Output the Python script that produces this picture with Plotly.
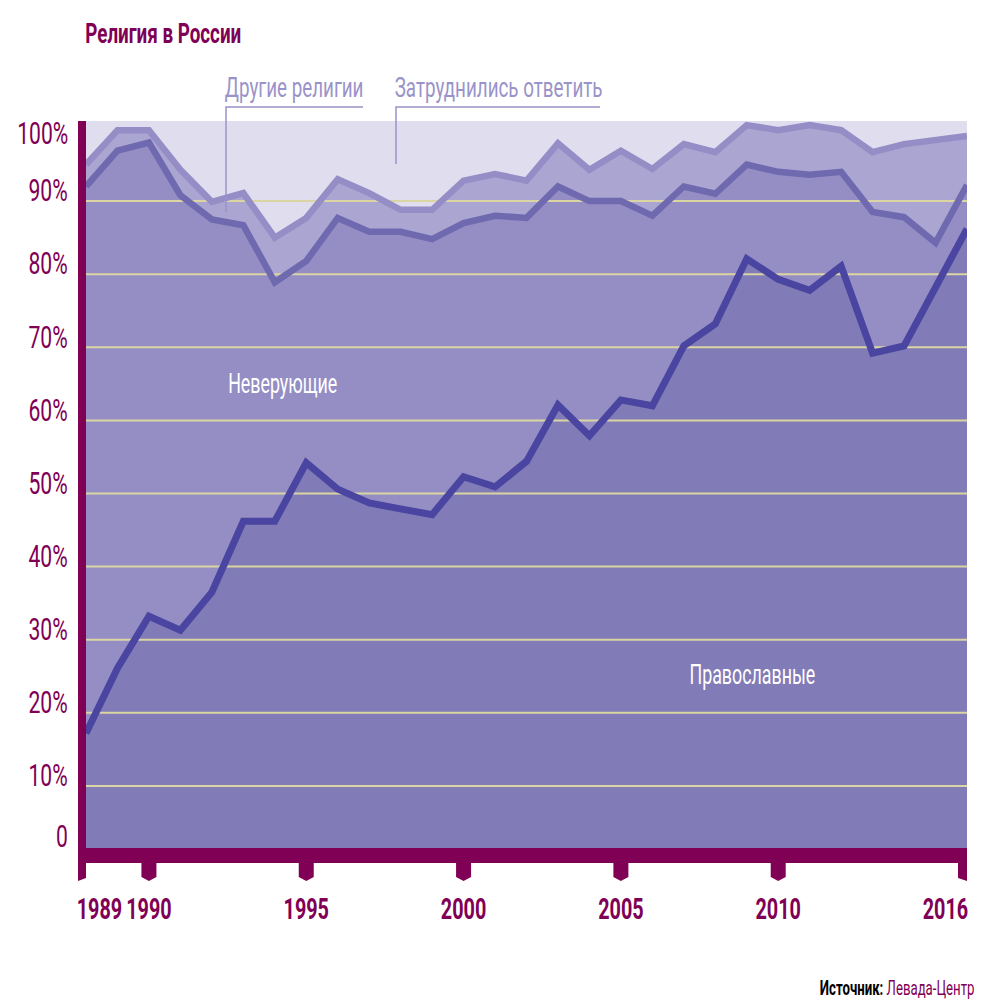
import plotly.graph_objects as go

# Survey positions along the axis (the 1989 wave has two readings)
survey_index = list(range(29))
orthodox = [17.2, 26.1, 33.2, 31.3, 36.5, 46.2, 46.2, 54.2, 50.6, 48.7, 47.9, 47.1, 52.3, 50.9, 54.4,
            62.1, 57.9, 62.8, 62.0, 70.2, 73.2, 82.1, 79.3, 77.8, 81.1, 69.2, 70.2, 78.1, 86.2]
with_nonbelievers = [92.0, 96.9, 98.0, 90.8, 87.5, 86.7, 78.9, 81.8, 87.7, 85.8, 85.8, 84.8, 87.0, 88.0, 87.7,
                     92.0, 90.0, 90.0, 88.0, 92.0, 91.0, 95.0, 94.0, 93.6, 94.0, 88.5, 87.8, 84.3, 92.2]
with_other = [95.0, 99.7, 99.7, 94.3, 89.9, 91.1, 85.0, 87.7, 93.0, 91.1, 88.8, 88.8, 92.8, 93.7, 92.8,
              97.9, 94.3, 96.9, 94.4, 97.8, 96.7, 100.4, 99.7, 100.4, 99.7, 96.7, 97.8, 98.3, 98.9]

grid_values = [10, 20, 30, 40, 50, 60, 70, 80, 90]
x_tick_index = [0, 2, 7, 12, 17, 22, 28]
x_tick_labels = ["1989", "1990", "1995", "2000", "2005", "2010", "2016"]

PURPLE = "#7F0055"
C_BG, C_TOP, C_MID, C_LOW = "#E0DDEE", "#ABA5D2", "#958EC4", "#817BB7"
L_TOP, L_MID, L_LOW = "#958DC6", "#6F69B0", "#4A45A0"
C_NOTE = "#9A93C9"
FONT = "Roboto"

W, H = 1000, 1000
L, R, T, B = 86, 967, 121, 848
Y_RANGE = [(859 - B) / 7.31, (859 - T) / 7.31]
X_RANGE = [survey_index[0], survey_index[-1]]

fig = go.Figure()
for vals, col in [(with_other, C_TOP), (with_nonbelievers, C_MID), (orthodox, C_LOW)]:
    fig.add_trace(go.Scatter(x=survey_index, y=vals, mode="none", fill="tozeroy", fillcolor=col, hoverinfo="skip"))

gx, gy = [], []
for v in grid_values:
    gx += [X_RANGE[0], X_RANGE[1], None]
    gy += [v, v, None]
fig.add_trace(go.Scatter(x=gx, y=gy, mode="lines", line=dict(color="#DAD5A2", width=2), hoverinfo="skip"))

for vals, col, w in [(with_other, L_TOP, 6.5), (with_nonbelievers, L_MID, 6.5), (orthodox, L_LOW, 7)]:
    fig.add_trace(go.Scatter(x=survey_index, y=vals, mode="lines", line=dict(color=col, width=w), hoverinfo="skip"))


def fx(x):
    return (x - L) / (R - L)


def fy(y):
    return (B - y) / (B - T)


shapes = []
# Pentagon axis ticks below the baseline bar
for i, pos in enumerate(x_tick_index):
    if i == 0:
        path = "M-8,-14 L0,-14 L0,-30 L-8,-33 Z"
    elif i == len(x_tick_index) - 1:
        path = "M-9,-14 L0,-14 L0,-33 L-9,-30 Z"
    else:
        path = "M-7.5,-14 L7.5,-14 L7.5,-29 L0,-33 L-7.5,-29 Z"
    shapes.append(dict(type="path", xref="paper", yref="paper", xsizemode="pixel", ysizemode="pixel",
                       xanchor=(pos - X_RANGE[0]) / (X_RANGE[1] - X_RANGE[0]), yanchor=0,
                       path=path, fillcolor=PURPLE, line_width=0))
# Leader lines of the two callouts
for pts in ([(363, 107), (226, 107), (226, 212)], [(600, 107), (396, 107), (396, 164)]):
    d = "M" + " L".join(f"{fx(a):.5f},{fy(b):.5f}" for a, b in pts)
    shapes.append(dict(type="path", xref="paper", yref="paper", path=d, line=dict(color=C_NOTE, width=1.5)))


def note(x, y, text, size, color):
    # Text is narrowed about its centre below, so every note is placed by its centre.
    return dict(xref="paper", yref="paper", x=fx(x), y=fy(y), text=text, showarrow=False, xanchor="center",
                yanchor="middle", font=dict(family=FONT, size=size, color=color), borderpad=0)


annotations = [
    note(163, 34, "<b>Религия в России</b>", 28.5, PURPLE),
    note(294, 87, "Другие религии", 28.5, C_NOTE),
    note(498, 87, "Затруднились ответить", 28.5, C_NOTE),
    note(282, 384, "Неверующие", 27, "white"),
    note(752, 675, "Православные", 27, "white"),
    note(897, 988, "<b>Источник:</b> <span style='color:%s'>Левада-Центр</span>" % PURPLE, 20, "black"),
    # Axis end labels sit off their ticks in the reference
    note(42.5, 133, "100%", 32, PURPLE),
    note(62, 836, "0", 32, PURPLE),
    note(99.5, 908, "<b>%s</b>" % x_tick_labels[0], 30, PURPLE),
    note(945, 908, "<b>%s</b>" % x_tick_labels[-1], 30, PURPLE),
]

fig.update_layout(
    width=W, height=H, showlegend=False, paper_bgcolor="white", plot_bgcolor=C_BG,
    margin=dict(l=L, r=W - R, t=T, b=H - B, autoexpand=False),
    shapes=shapes, annotations=annotations,
    xaxis=dict(range=X_RANGE, showgrid=False, zeroline=False, showline=True, linecolor=PURPLE, linewidth=15,
               ticks="", tickmode="array", tickvals=x_tick_index[1:-1], ticktext=[f"<b>{t}</b>" for t in x_tick_labels[1:-1]],
               tickfont=dict(family=FONT, size=30, color=PURPLE), ticklabelstandoff=20),
    yaxis=dict(range=Y_RANGE, showgrid=False, zeroline=False, showline=True, linecolor=PURPLE, linewidth=8,
               ticks="", tickmode="array", tickvals=grid_values, ticktext=[f"{v}%" for v in grid_values],
               tickfont=dict(family=FONT, size=32, color=PURPLE), ticklabelshift=-11, ticklabelstandoff=4),
)

# Reference type is a very condensed face; none is installed, so narrow the real text
# horizontally about its anchor point.
squeeze = """
document.body.style.margin='0';
(function(){
  var K=0.66;
  function run(){
    document.querySelectorAll('.main-svg text').forEach(function(t){
      if(t.getAttribute('data-sq')) return;
      if(!t.textContent) return;
      var ax=parseFloat(t.getAttribute('x'))||0, old=t.getAttribute('transform')||'';
      t.setAttribute('transform',old+' translate('+ax+',0) scale('+K+',1) translate('+(-ax)+',0)');
      t.setAttribute('data-sq','1');
    });
    document.querySelectorAll('.annotation-text-g rect').forEach(function(r){
      if(r.getAttribute('data-sq')) return;
      var w=parseFloat(r.getAttribute('width')), x=parseFloat(r.getAttribute('x'));
      if(!w) return;
      r.setAttribute('x',x+w*(1-K)/2); r.setAttribute('width',w*K);
      r.setAttribute('data-sq','1');
    });
  }
  run(); setTimeout(run,50);
})();
"""
fig.write_html("out.html", post_script=squeeze, config={"displayModeBar": False})
